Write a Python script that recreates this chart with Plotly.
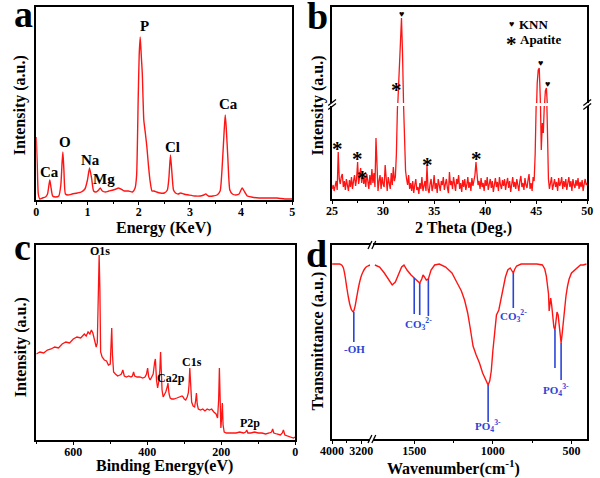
import plotly.graph_objects as go

W, H = 600, 478
FONT = "Liberation Serif"
RED = "#ff1414"
BLUE = "#2a44d6"


def X(p):
    return p / W


def Y(p):
    return 1 - p / H


# ---------------- Panel a : EDS ----------------
eds_energy = [0.0, 0.02, 0.04, 0.07, 0.12, 0.18, 0.22, 0.245, 0.265, 0.29,
              0.32, 0.38, 0.44, 0.48, 0.505, 0.52, 0.54, 0.57, 0.62, 0.7,
              0.8, 0.88, 0.95, 1.0, 1.04, 1.08, 1.12, 1.17, 1.22, 1.25,
              1.29, 1.35, 1.42, 1.5, 1.56, 1.6, 1.65, 1.72, 1.8, 1.88,
              1.93, 1.96, 1.99, 2.01, 2.03, 2.05, 2.07, 2.1, 2.13, 2.16,
              2.19, 2.22, 2.26, 2.3, 2.35, 2.42, 2.5, 2.56, 2.59, 2.62,
              2.645, 2.68, 2.72, 2.77, 2.82, 2.88, 2.98, 3.1, 3.2, 3.27,
              3.31, 3.36, 3.45, 3.53, 3.59, 3.63, 3.67, 3.69, 3.71, 3.74,
              3.78, 3.83, 3.9, 3.96, 4.02, 4.07, 4.12, 4.2, 4.35, 4.5,
              4.7, 4.85, 5.0]
eds_counts = [63, 35, 6, 1, 2, 3, 6, 14, 20, 12,
              4, 3, 4, 15, 38, 48, 30, 6, 5, 6,
              7, 8, 11, 20, 32, 22, 9, 8, 10, 12,
              9, 8, 9, 10, 11, 12, 11, 9, 9, 8,
              12, 25, 100, 145, 163, 145, 127, 80, 67, 53,
              35, 20, 9, 9, 8, 7, 7, 10, 22, 45,
              30, 10, 7, 6, 7, 6, 5, 4, 4, 5,
              6, 4, 4, 5, 9, 33, 70, 85, 72, 43,
              10, 6, 5, 6, 12, 8, 4, 3, 2, 2,
              2, 1, 1]
eds_labels = ["Ca", "O", "Na", "Mg", "P", "Cl", "Ca"]
eds_label_pos = [(39, 172), (54.5, 142.5), (80.7, 159.5), (95.3, 178.5),
                 (136.5, 26), (165.5, 146.5), (223, 104)]

# ---------------- Panel b : XRD ----------------
xrd_theta = [round(25 + 0.1 * i, 1) for i in range(251)]
xrd_intensity = [
    10, 14, 8, 12, 18, 9, 47, 20, 15, 22,      # 25
    25, 12, 18, 9, 20, 14, 8, 19, 12, 22,      # 26
    10, 18, 24, 13, 20, 37, 15, 22, 31, 16,    # 27
    28, 15, 22, 12, 25, 18, 10, 24, 14, 30,    # 28
    16, 26, 12, 61, 20, 8, 18, 24, 10, 22,     # 29
    15, 12, 34, 20, 8, 22, 16, 10, 26, 14,     # 30
    32, 18, 22, 45, 90, 112, 130, 165, 185, 150,  # 31
    95, 50, 28, 20, 14, 24, 10, 16, 8, 18,     # 32
    6, 14, 20, 9, 12, 5, 16, 10, 22, 8,        # 33
    12, 18, 8, 33, 10, 6, 15, 20, 8, 13,       # 34
    24, 10, 16, 6, 20, 12, 8, 18, 14, 22,      # 35
    9, 15, 20, 11, 6, 27, 14, 18, 10, 22,      # 36
    12, 8, 20, 15, 24, 10, 16, 7, 19, 12,      # 37
    20, 9, 14, 22, 11, 17, 8, 21, 13, 18,      # 38
    24, 37, 20, 14, 18, 10, 21, 12, 16, 8,     # 39
    19, 13, 22, 9, 15, 20, 11, 18, 7, 16,      # 40
    21, 12, 17, 8, 22, 14, 10, 19, 13, 20,     # 41
    9, 16, 21, 11, 18, 7, 15, 22, 12, 17,      # 42
    10, 20, 14, 8, 18, 23, 12, 16, 9, 21,      # 43
    14, 11, 19, 25, 10, 16, 8, 22, 18, 45,     # 44
    95, 120, 133, 135, 105, 49, 76, 66, 95, 112,  # 45
    115, 70, 20, 10, 18, 22, 9, 15, 20, 12,    # 46
    17, 8, 21, 13, 16, 22, 10, 18, 12, 20,     # 47
    9, 16, 22, 12, 18, 8, 20, 14, 11, 19,      # 48
    13, 21, 10, 17, 12, 19, 8, 15, 20, 14,     # 49
    16]
apatite_marks = [(336, 145), (356.7, 155), (361.7, 174), (396.7, 86),
                 (428.3, 161), (479.3, 155)]
knn_marks = [(401.7, 14), (545, 63), (552.3, 84)]

# ---------------- Panel c : XPS ----------------
xps_binding = [700, 690, 680, 670, 660, 650, 640, 630, 620, 610,
               600, 590, 580, 570, 565, 560, 555, 551, 547, 543,
               538, 535, 532, 530, 528, 526, 522, 516, 510, 505,
               500, 498, 496, 494, 491, 486, 480, 474, 470, 466,
               462, 456, 450, 444, 440, 437, 434, 428, 420, 412,
               406, 402, 399, 396, 392, 388, 384, 380, 378, 375,
               372, 369, 366, 364, 362, 360, 357, 354, 350, 346,
               344, 341, 338, 334, 328, 320, 312, 306, 303, 300,
               296, 292, 289, 287, 285, 283, 280, 276, 272, 269,
               267, 265, 262, 256, 250, 244, 238, 232, 226, 220,
               214, 210, 207, 205, 203, 201, 199, 197, 195, 192,
               186, 180, 170, 160, 150, 140, 134, 131, 128, 120,
               110, 100, 90, 80, 70, 64, 61, 58, 50, 40,
               35, 32, 28, 20, 10, 5, 0]
xps_intensity = [86, 88, 87, 90, 91, 93, 92, 96, 98, 97,
                 101, 103, 102, 106, 104, 108, 106, 110, 107, 101,
                 93, 97, 140, 185, 150, 88, 83, 80, 79, 75,
                 76, 92, 112, 85, 68, 66, 64, 65, 66, 70,
                 64, 63, 64, 63, 64, 68, 64, 63, 63, 62,
                 63, 66, 72, 63, 60, 63, 66, 78, 81, 60,
                 52, 58, 70, 88, 72, 50, 43, 45, 48, 53,
                 57, 46, 42, 41, 41, 42, 43, 44, 43, 41,
                 40, 43, 47, 55, 72, 50, 38, 34, 33, 40,
                 47, 36, 31, 30, 31, 29, 31, 30, 31, 28,
                 26, 22, 40, 72, 50, 12, 22, 37, 15, 8,
                 7, 7, 7, 7, 8, 7, 8, 10, 7, 7,
                 8, 7, 7, 6, 7, 8, 11, 7, 6, 5,
                 7, 10, 5, 4, 3, 2, 3]
xps_labels = ["O1s", "Ca2p", "C1s", "P2p"]
xps_label_pos = [(91, 251), (164, 378), (186, 362), (245.5, 423)]

# ---------------- Panel d : FTIR ----------------
ftir_wn_high = [4000, 3900, 3800, 3740, 3690, 3645, 3600, 3555, 3510, 3465,
                3420, 3375, 3330, 3285, 3245, 3200, 3155, 3110, 3065, 3020,
                2960]
ftir_t_high = [175, 175, 175, 174, 171, 163, 152, 142, 134, 129,
               127, 132, 141, 150, 157, 163, 167, 170, 172, 173,
               174]
ftir_wn_low = [1750, 1720, 1690, 1660, 1640, 1620, 1600, 1580, 1565, 1546,
               1520, 1500, 1480, 1465, 1452, 1444, 1435, 1423, 1410, 1393,
               1370, 1340, 1300, 1260, 1230, 1200, 1180, 1160, 1145, 1126,
               1106, 1085, 1065, 1045, 1030, 1020, 1010, 1000, 990, 977,
               962, 948, 935, 920, 905, 890, 878, 870, 860, 849,
               820, 780, 720, 685, 670, 660, 650, 646, 642, 637,
               632, 626, 619, 612, 605, 598, 592, 585, 578, 571,
               566, 560, 553, 545, 535, 525, 515, 500, 480, 460,
               443, 425, 405]
ftir_t_low = [174, 172, 166, 159, 154, 157, 164, 172, 174, 169,
              164, 161, 158, 156, 160, 164, 162, 159, 160, 169,
              174, 175, 172, 166, 157, 148, 139, 126, 112, 93,
              84, 76, 66, 58, 54, 58, 68, 88, 104, 124,
              129, 139, 151, 162, 169, 171, 168, 166, 170, 173,
              175, 175, 175, 174, 170, 163, 150, 145, 128, 139,
              141, 134, 122, 112, 109, 118, 127, 124, 112, 100,
              96, 104, 117, 131, 143, 153, 160, 166, 169, 171,
              174, 174, 175]
band_wn = [3405, 1500, 1465, 1410, 870, 1030, 605, 566]
band_top = [127, 161, 156, 160, 166, 54, 109, 96]
band_bottom = [97, 125, 124, 123, 131, 17, 71, 59]
band_labels = ["-OH", "CO<sub>3</sub><sup>2-</sup>", "CO<sub>3</sub><sup>2-</sup>",
               "PO<sub>4</sub><sup>3-</sup>", "PO<sub>4</sub><sup>3-</sup>"]
band_label_pos = [(353, 349), (419, 324), (517, 316), (491, 426), (561, 390)]

fig = go.Figure()
line_red = dict(color=RED, width=1.3)

fig.add_trace(go.Scatter(x=eds_energy, y=eds_counts, xaxis="x", yaxis="y", mode="lines",
                         line=dict(color=RED, width=1.4, shape="spline", smoothing=0.5)))
fig.add_trace(go.Scatter(x=xrd_theta, y=xrd_intensity, xaxis="x2", yaxis="y2", mode="lines", line=line_red))
fig.add_trace(go.Scatter(x=xrd_theta, y=xrd_intensity, xaxis="x3", yaxis="y3", mode="lines", line=line_red))
fig.add_trace(go.Scatter(x=xps_binding, y=xps_intensity, xaxis="x4", yaxis="y4", mode="lines", line=line_red))
fig.add_trace(go.Scatter(x=ftir_wn_high, y=ftir_t_high, xaxis="x5", yaxis="y5", mode="lines",
                         line=dict(color=RED, width=1.4, shape="spline", smoothing=0.6)))
fig.add_trace(go.Scatter(x=ftir_wn_low, y=ftir_t_low, xaxis="x6", yaxis="y6", mode="lines",
                         line=dict(color=RED, width=1.4)))

# band marker lines
bx_hi, by_hi, bx_lo, by_lo = [], [], [], []
for wn, t0, t1 in zip(band_wn, band_top, band_bottom):
    if wn > 2000:
        bx_hi += [wn, wn, None]
        by_hi += [t0, t1, None]
    else:
        bx_lo += [wn, wn, None]
        by_lo += [t0, t1, None]
fig.add_trace(go.Scatter(x=bx_hi, y=by_hi, xaxis="x5", yaxis="y5", mode="lines",
                         line=dict(color=BLUE, width=1.6)))
fig.add_trace(go.Scatter(x=bx_lo, y=by_lo, xaxis="x6", yaxis="y6", mode="lines",
                         line=dict(color=BLUE, width=1.6)))

tickfont = dict(family=FONT, size=12, color="black", weight="bold")
base_x = dict(showgrid=False, zeroline=False, showline=True, linecolor="black", linewidth=1.5,
              ticks="outside", ticklen=3, tickwidth=1.2, tickcolor="black", tickfont=tickfont)
base_y = dict(showgrid=False, zeroline=False, showline=True, linecolor="black", linewidth=1.5,
              ticks="", showticklabels=False)
minor = dict(ticks="outside", ticklen=2, tickwidth=1, tickcolor="black")

fig.update_layout(
    width=W, height=H, margin=dict(l=0, r=0, t=0, b=0),
    paper_bgcolor="white", plot_bgcolor="white", showlegend=False,
    xaxis=dict(base_x, domain=[X(25), X(289)], range=[0, 5], dtick=1, tick0=0,
               minor=dict(minor, dtick=0.5), anchor="y", mirror=True),
    yaxis=dict(base_y, domain=[Y(200), Y(7)], range=[0, 193], anchor="x", mirror=True),
    xaxis2=dict(base_x, domain=[X(330), X(593)], range=[25, 50], dtick=5, tick0=25,
                minor=dict(minor, dtick=2.5), anchor="y2"),
    yaxis2=dict(base_y, domain=[Y(199), Y(106)], range=[0, 93], anchor="x2", mirror=True),
    xaxis3=dict(base_x, domain=[X(330), X(593)], range=[25, 50], anchor="y3", side="top",
                ticks="", showticklabels=False, matches="x2"),
    yaxis3=dict(base_y, domain=[Y(103), Y(7)], range=[100, 196], anchor="x3", mirror=True),
    xaxis4=dict(base_x, domain=[X(25), X(292)], range=[700, 0], dtick=200, tick0=0,
                minor=dict(minor, dtick=100), anchor="y4", mirror=True),
    yaxis4=dict(base_y, domain=[Y(440), Y(245)], range=[0, 195], anchor="x4", mirror=True),
    xaxis5=dict(base_x, domain=[X(330), X(369.5)], range=[4000, 2950], tickvals=[4000, 3200],
                minor=dict(minor, tickvals=[3600]), anchor="y5", mirror=True),
    yaxis5=dict(base_y, domain=[Y(439), Y(245)], range=[0, 194], anchor="x5"),
    xaxis6=dict(base_x, domain=[X(372.5), X(593)], range=[1760, 400], tickvals=[1500, 1000, 500],
                minor=dict(minor, tickvals=[1250, 750]), anchor="y6", mirror=True),
    yaxis6=dict(base_y, domain=[Y(439), Y(245)], range=[0, 194], anchor="x6", side="right"),
)
for ax in ("xaxis", "xaxis2", "xaxis4", "xaxis5", "xaxis6"):
    try:
        fig.layout[ax].ticklabelstandoff = -3
    except Exception:
        pass

anns = []


def ann(text, x, y, size, color="black", angle=0, xanchor="center"):
    anns.append(dict(text=text, x=X(x), y=Y(y), xref="paper", yref="paper", showarrow=False,
                     xanchor=xanchor, yanchor="middle", textangle=angle,
                     font=dict(family=FONT, size=size, color=color, weight="bold")))


# panel letters
for letter, (x, y) in zip("abcd", [(12, 14), (315, 16), (11, 247), (314, 253.5)]):
    ann(letter, x, y, 38)

# axis titles
ann("Energy (KeV)", 157, 228, 16)
ann("2 Theta (Deg.)", 465, 228, 16)
ann("Binding Energy(eV)", 157.5, 466, 16)
ann("Wavenumber(cm<sup>-1</sup>)", 455, 467, 16)
ann("Intensity (a.u.)", 8.5, 105, 16, angle=-90)
ann("Intensity (a.u.)", 315, 106, 16, angle=-90)
ann("Intensity (a.u.)", 9.5, 347, 16, angle=-90)
ann("Transmittance (a.u.)", 315, 341, 16, angle=-90)

for t, (x, y) in zip(eds_labels, eds_label_pos):
    ann(t, x, y, 15)
for t, (x, y) in zip(xps_labels, xps_label_pos):
    ann(t, x, y, 12)
for (x, y) in apatite_marks:
    ann("*", x, y + 4, 21)
for (x, y) in knn_marks:
    ann("♥", x, y, 9)
ann("♥", 515, 24, 9)
ann("KNN", 521, 24, 13, xanchor="left")
ann("*", 515, 43.5, 21)
ann("Apatite", 522, 39.5, 13, xanchor="left")
for t, (x, y) in zip(band_labels, band_label_pos):
    ann(t, x, y, 11, color=BLUE)

fig.update_layout(annotations=anns)

# axis-break marks
shapes = []


def brk(x, y, dx=4, dy=3, sep=4, vertical_axis=True):
    for k in (-sep / 2, sep / 2):
        if vertical_axis:
            x0, y0, x1, y1 = x - dx, y + k + dy, x + dx, y + k - dy
        else:
            x0, y0, x1, y1 = x + k - dx / 2, y + dy + 1, x + k + dx / 2, y - dy - 1
        shapes.append(dict(type="line", xref="paper", yref="paper",
                           x0=X(x0), y0=Y(y0), x1=X(x1), y1=Y(y1),
                           line=dict(color="black", width=1.3)))


brk(330, 104.5)
brk(593, 104.5)
brk(371, 245, vertical_axis=False)
brk(371, 439, vertical_axis=False)
fig.update_layout(shapes=shapes)

fig.write_html("out.html", config={"displayModeBar": False},
               post_script="document.body.style.margin='0px';")
